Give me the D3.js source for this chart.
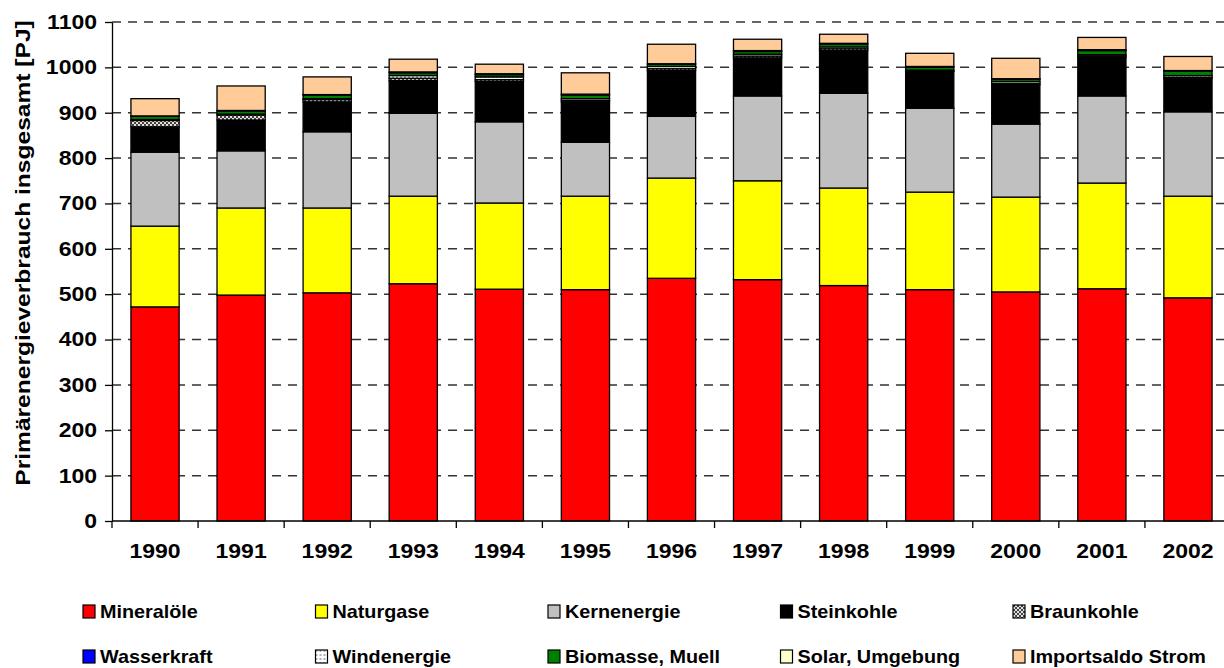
<!DOCTYPE html>
<html lang="en">
<head>
<meta charset="utf-8">
<script src="https://d3js.org/d3.v7.min.js"></script>
<style type="text/css">
body {
	margin: 0;
	background: #fff;
	font-family: "Liberation Sans", Arial, sans-serif;
}
text {
	font-weight: bold;
	fill: #000;
}
</style>
</head>
<body>
<script type="text/javascript">

// Data: primary energy consumption [PJ] per carrier
var years = ["1990","1991","1992","1993","1994","1995","1996","1997","1998","1999","2000","2001","2002"];
var mineraloele   = [472, 498, 503, 523, 511, 510, 535, 532, 519, 510, 505, 512, 492];
var naturgase     = [178, 192, 187, 193, 190, 206, 221, 218, 215, 215, 209, 233, 224];
var kernenergie   = [163, 126, 168, 183, 179, 119, 136, 187, 209, 185, 161, 192, 186];
var steinkohle    = [ 56,  68,  66,  72,  89,  89, 101,  84,  94,  81,  87,  85,  74];
var braunkohle    = [ 14,  11,   5,   5,   4,   3,   4,   4,   4,   2,   3,   3,   2];
var wasserkraft   = [  0,   0,   0,   0,   0,   0,   0,   0,   0,   0,   0,   0,   0];
var windenergie   = [  2,   2,   2,   6,   6,   4,   5,   4,   4,   1,   4,   3,   4];
var biomasse      = [  7,   7,   8,   6,   5,   8,   5,   6,   6,   6,   5,   9,  10];
var solar         = [  1,   1,   1,   2,   2,   2,   1,   2,   2,   2,   1,   2,   1];
var importsaldo   = [ 38,  54,  39,  28,  21,  47,  43,  25,  20,  29,  45,  27,  31];
var yTicks = [0,100,200,300,400,500,600,700,800,900,1000,1100];

var seriesNames = ["Mineralöle","Naturgase","Kernenergie","Steinkohle","Braunkohle",
                   "Wasserkraft","Windenergie","Biomasse, Muell","Solar, Umgebung","Importsaldo Strom"];
var seriesValues = [mineraloele, naturgase, kernenergie, steinkohle, braunkohle,
                    wasserkraft, windenergie, biomasse, solar, importsaldo];
var fills = ["#ff0000","#ffff00","#c0c0c0","#000000","url(#braun)",
             "#0000ff","url(#wind)","#008000","#ffffcc","#ffcc99"];

var width = 1224;
var height = 668;

var svg = d3.select("body")
            .append("svg")
            .attr("width", width)
            .attr("height", height);

// hatch patterns
var defs = svg.append("defs");
var pb = defs.append("pattern").attr("id","braun").attr("width",4).attr("height",4)
             .attr("patternUnits","userSpaceOnUse");
pb.append("rect").attr("width",4).attr("height",4).attr("fill","#e0e0e0");
pb.append("rect").attr("width",2).attr("height",2).attr("fill","#444");
pb.append("rect").attr("x",2).attr("y",2).attr("width",2).attr("height",2).attr("fill","#444");
var pw = defs.append("pattern").attr("id","wind").attr("width",4).attr("height",4)
             .attr("patternUnits","userSpaceOnUse");
pw.append("rect").attr("width",4).attr("height",4).attr("fill","#ffffff");
pw.append("rect").attr("width",2).attr("height",2).attr("fill","#b0b0b0");

// table for the stack
var table = years.map(function(y, i) {
  var row = {year: y};
  seriesNames.forEach(function(n, k) { row[n] = seriesValues[k][i]; });
  return row;
});
var stacked = d3.stack().keys(seriesNames)(table);

var x = d3.scaleBand()
          .domain(years)
          .range([112, 1231])
          .paddingInner(0.44)
          .paddingOuter(0.22);

var y = d3.scaleLinear()
          .domain([0, 1100])
          .range([521, 22]);

// stretch text horizontally around its anchor
function stretch(sel, k) {
  sel.each(function() {
    var t = d3.select(this);
    var tx = +t.attr("x") || 0;
    t.attr("transform", "translate(" + tx + ",0) scale(" + k + ",1) translate(" + (-tx) + ",0)");
  });
}

// dashed grid
svg.append("g")
   .selectAll("line")
   .data(yTicks.slice(1))
   .enter()
   .append("line")
   .attr("x1", 112)
   .attr("x2", 1231)
   .attr("y1", function(d) { return y(d); })
   .attr("y2", function(d) { return y(d); })
   .style("stroke", "#333")
   .style("stroke-width", 1.5)
   .style("stroke-dasharray", "9,7");

// bars
svg.append("g")
   .selectAll("g")
   .data(stacked)
   .enter()
   .append("g")
   .style("fill", function(d, i) { return fills[i]; })
   .selectAll("rect")
   .data(function(d) { return d; })
   .enter()
   .append("rect")
   .attr("x", function(d) { return x(d.data.year); })
   .attr("y", function(d) { return y(d[1]); })
   .attr("width", x.bandwidth())
   .attr("height", function(d) { return y(d[0]) - y(d[1]); })
   .style("stroke", "#000")
   .style("stroke-width", 1.3);

// y axis
var yAxis = svg.append("g")
   .attr("transform", "translate(112,0)")
   .call(d3.axisLeft(y).tickValues(yTicks).tickFormat(d3.format("d"))
           .tickSize(7).tickPadding(8).tickSizeOuter(0));
yAxis.select(".domain").style("stroke", "#000").style("stroke-width", 1.3);
yAxis.selectAll("line").style("stroke", "#000").style("stroke-width", 1.3);
yAxis.selectAll("text")
     .style("font-size", "20px")
     .style("font-family", "'Liberation Sans', Arial, sans-serif")
     .call(stretch, 1.15);

// x axis with ticks between categories
var xAxis = svg.append("g")
   .attr("transform", "translate(0,521)");
xAxis.append("line")
     .attr("x1", 112).attr("x2", 1231)
     .style("stroke", "#000").style("stroke-width", 1.3);
xAxis.selectAll(".tk")
     .data(years)
     .enter()
     .append("line")
     .attr("class", "tk")
     .attr("x1", function(d) { return x(d) - x.step() * x.paddingOuter(); })
     .attr("x2", function(d) { return x(d) - x.step() * x.paddingOuter(); })
     .attr("y1", 0).attr("y2", 7)
     .style("stroke", "#000").style("stroke-width", 1.3);
xAxis.selectAll("text")
     .data(years)
     .enter()
     .append("text")
     .attr("x", function(d) { return x(d) + x.bandwidth() / 2; })
     .attr("y", 37)
     .attr("text-anchor", "middle")
     .style("font-size", "20px")
     .text(function(d) { return d; })
     .call(stretch, 1.15);

// y title
svg.append("text")
   .attr("transform", "translate(30,253) rotate(-90) scale(1.17,1)")
   .attr("text-anchor", "middle")
   .style("font-size", "21px")
   .text("Primärenergieverbrauch insgesamt [PJ]");

// legend
var legend = svg.append("g")
   .selectAll("g")
   .data(seriesNames)
   .enter()
   .append("g")
   .attr("transform", function(d, i) {
     return "translate(" + (83 + (i % 5) * 232.5) + "," + (605 + Math.floor(i / 5) * 45) + ")";
   });

legend.append("rect")
      .attr("width", 12)
      .attr("height", 13)
      .style("fill", function(d, i) { return fills[i]; })
      .style("stroke", "#000")
      .style("stroke-width", 1.2);

legend.append("text")
      .attr("x", 17)
      .attr("y", 13)
      .style("font-size", "18px")
      .text(function(d) { return d; })
      .call(stretch, 1.1);

</script>
</body>
</html>
